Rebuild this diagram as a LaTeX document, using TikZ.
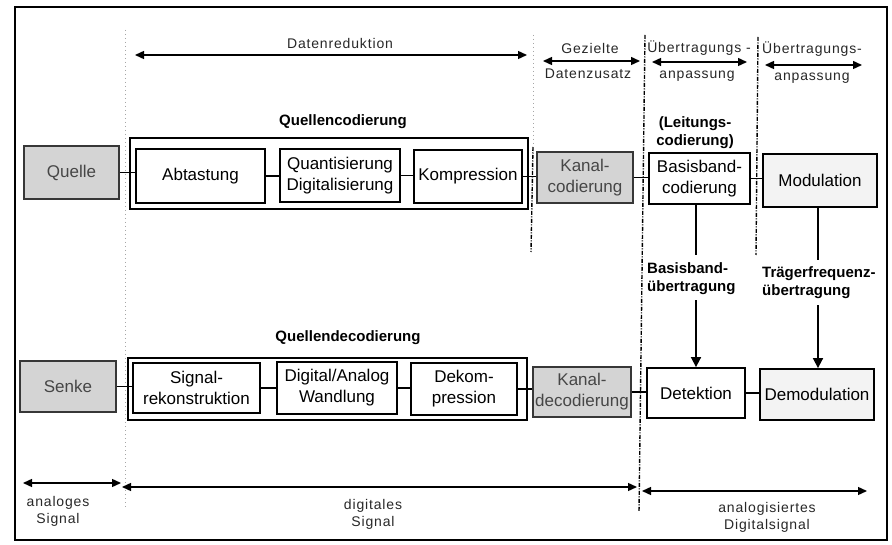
\documentclass[tikz,border=0pt]{standalone}
\usepackage{fontspec}
\setmainfont{Liberation Sans}
\newfontfamily\spacedsans[LetterSpace=6]{Liberation Sans}
\usetikzlibrary{arrows.meta}

% font sizes (1 unit = 1pt)
\newcommand\bxf{\fontsize{17}{21}\selectfont}
\newcommand\lblf{\spacedsans\fontsize{14}{17}\selectfont}
\newcommand\bldf{\bfseries\fontsize{15}{18}\selectfont}

\definecolor{grayfill}{RGB}{212,212,212}
\definecolor{lightfill}{RGB}{243,243,243}
\definecolor{graytext}{RGB}{70,70,70}
\definecolor{grayedge}{RGB}{55,55,55}
\definecolor{lbltext}{RGB}{40,40,40}

\begin{document}
\begin{tikzpicture}[x=1pt,y=-1pt,
  stage/.style={draw, line width=1.8pt, fill=white, inner sep=0pt, align=center, font=\bxf},
  endpoint/.style={stage, fill=grayfill, draw=grayedge, text=graytext},
  softstage/.style={stage, fill=lightfill},
  group/.style={draw, line width=1.9pt},
  conn/.style={line width=1.7pt},
  span/.style={line width=1.4pt, {Triangle[length=9pt,width=8pt]}-{Triangle[length=9pt,width=8pt]}},
  down/.style={line width=1.7pt, -{Triangle[length=10pt,width=10pt]}},
  lbl/.style={inner sep=0pt, font=\lblf, text=lbltext},
  bold/.style={inner sep=0pt, font=\bldf, align=left},
  border/.style={dash pattern=on 4pt off 1.5pt on 1pt off 1.5pt, line width=1.4pt},
  faint/.style={dash pattern=on 1pt off 3pt, line width=1pt, black!35}
]
\useasboundingbox (0,0) rectangle (892,545);
\fill[white] (0,0) rectangle (892,545);
\draw[line width=1.5pt] (15,7) rectangle (887,540);

% section borders
\draw[faint] (125,30) -- (125,507);
\draw[faint] (533,35) -- (533,147);
\draw[border] (533,147) -- (531,252);
\draw[border] (645,35) -- (639,512);
\draw[border] (758,37) -- (756,255);

% headline ranges
\coordinate (dr1) at (135,55);  \coordinate (dr2) at (527,55);
\coordinate (gz1) at (543,61);  \coordinate (gz2) at (640,61);
\coordinate (ua1) at (652,62);  \coordinate (ua2) at (747,62);
\coordinate (ub1) at (765,65);  \coordinate (ub2) at (862,65);
\node[lbl] (drl) at (340,44) {Datenreduktion};
\draw[span] (dr1) -- (dr2);
\node[lbl] (gzl) at (590,48) {Gezielte};
\node[lbl] (gzm) at (588,74) {Datenzusatz};
\draw[span] (gz1) -- (gz2);
\node[lbl] (ual) at (699,48) {Übertragungs -};
\node[lbl] (uam) at (697,76) {anpassung};
\draw[span] (ua1) -- (ua2);
\node[lbl] (ubl) at (812,49) {Übertragungs-};
\node[lbl] (ubm) at (812,78) {anpassung};
\draw[span] (ub1) -- (ub2);

% transmitter chain
\node[bold] (qc) at (343,122) {Quellencodierung};
\draw[group] (130,138) rectangle (528,209);
\node[endpoint, minimum width=95pt, minimum height=53pt] (quelle) at (71.5,172.5) {Quelle};
\node[stage, minimum width=129pt, minimum height=54pt] (abt) at (200.5,176) {Abtastung};
\node[stage, minimum width=120pt, minimum height=53pt] (quant) at (340,175.5) {Quantisierung\\Digitalisierung};
\node[stage, minimum width=108pt, minimum height=53pt] (komp) at (468,176.5) {Kompression};
\node[endpoint, minimum width=96pt, minimum height=51pt] (kanal) at (585,177.5) {Kanal-\\codierung};
\node[bold, align=center] (ltg) at (695,133) {(Leitungs-\\codierung)};
\node[stage, minimum width=101pt, minimum height=51pt] (bbc) at (699.5,178.5) {Basisband-\\codierung};
\node[softstage, minimum width=114pt, minimum height=53pt] (mod) at (820,180.5) {Modulation};

\draw[conn] (quelle) -- (quelle -| abt.west);
\draw[conn] (abt) -- (abt -| quant.west);
\draw[conn] (quant) -- (quant -| komp.west);
\draw[conn] (komp) -- (komp -| kanal.west);
\draw[conn] (kanal) -- (kanal -| bbc.west);
\draw[conn] (bbc) -- (bbc -| mod.west);

% receiver chain
\node[bold] (qd) at (348,338) {Quellendecodierung};
\draw[group] (128,358) rectangle (527,420);
\node[endpoint, minimum width=96pt, minimum height=51pt] (senke) at (68,386.5) {Senke};
\node[stage, minimum width=127pt, minimum height=50pt] (sig) at (196.5,388) {Signal-\\rekonstruktion};
\node[stage, minimum width=120pt, minimum height=52pt] (da) at (337,388) {Digital/Analog\\Wandlung};
\node[stage, minimum width=106pt, minimum height=52pt] (dekom) at (464,389) {Dekom-\\pression};
\node[endpoint, minimum width=98pt, minimum height=50pt] (kdec) at (582,392) {Kanal-\\decodierung};
\node[stage, minimum width=98pt, minimum height=50pt] (det) at (696,393) {Detektion};
\node[softstage, minimum width=114pt, minimum height=51pt] (demod) at (817,394.5) {Demodulation};

\draw[conn] (senke) -- (senke -| sig.west);
\draw[conn] (sig) -- (sig -| da.west);
\draw[conn] (da) -- (da -| dekom.west);
\draw[conn] (dekom) -- (dekom -| kdec.west);
\draw[conn] (kdec) -- (kdec -| det.west);
\draw[conn] (det) -- (det -| demod.west);

% transmission paths
\node[bold, anchor=north west] (bbu) at (647,262) {Basisband-\\übertragung};
\node[bold, anchor=north west] (tfu) at (762,266) {Trägerfrequenz-\\übertragung};
\draw[conn] (bbc.south -| det.north) -- (det.north |- 0,255);
\draw[down] (det.north |- bbu.south) ++(0,6) -- (det.north);
\draw[conn] (mod.south -| 818,0) -- (818,260);
\draw[down] (tfu.south -| 818,0) ++(0,7) -- (demod.north -| 818,0);

% signal domains
\coordinate (a1) at (23,483);   \coordinate (a2) at (121,483);
\coordinate (d1) at (122,487);  \coordinate (d2) at (637,487);
\coordinate (g1) at (642,491);  \coordinate (g2) at (867,491);
\draw[span] (a1) -- (a2);
\draw[span] (d1) -- (d2);
\draw[span] (g1) -- (g2);
\node[lbl, align=center] (al) at (58,511) {analoges\\Signal};
\node[lbl, align=center] (dl) at (373,514) {digitales\\Signal};
\node[lbl, align=center] (gl) at (767,517) {analogisiertes\\Digitalsignal};
\end{tikzpicture}
\end{document}
